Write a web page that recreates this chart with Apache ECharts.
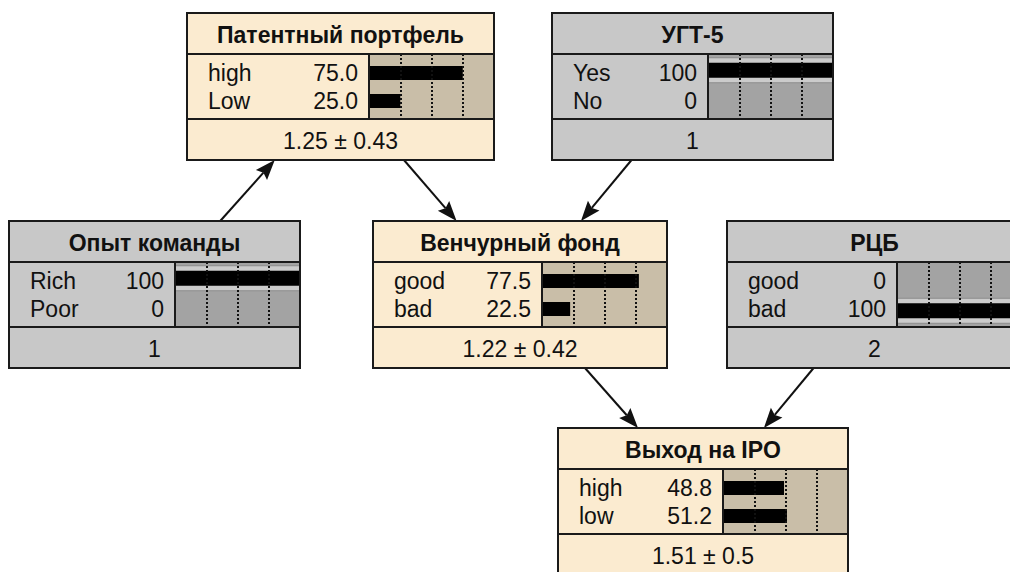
<!DOCTYPE html>
<html><head><meta charset="utf-8">
<script src="https://cdn.jsdelivr.net/npm/echarts@6/dist/echarts.min.js"></script>
<style>html,body{margin:0;padding:0;background:#fff}#c{width:1010px;height:572px}</style>
</head><body><div id="c"></div>
<script>
// ---- data ----
const nodeTitles = ['Патентный портфель', 'УГТ-5', 'Опыт команды', 'Венчурный фонд', 'РЦБ', 'Выход на IPO'];
const stateNames = [['high', 'Low'], ['Yes', 'No'], ['Rich', 'Poor'], ['good', 'bad'], ['good', 'bad'], ['high', 'low']];
const beliefs = [[75.0, 25.0], [100, 0], [100, 0], [77.5, 22.5], [0, 100], [48.8, 51.2]];
const summaries = ['1.25 ± 0.43', '1', '1', '1.22 ± 0.42', '2', '1.51 ± 0.5'];
const hasFinding = [false, true, true, false, true, false];
const links = [[2, 0], [0, 3], [1, 3], [3, 5], [4, 5]];

// ---- layout (positions only) ----
const boxes = [[187, 13, 307], [552, 13, 281], [9, 221, 291], [373, 221, 294], [727, 221, 295], [558, 428, 290]];
const TITLE_H = 41, STATES_H = 65, SUM_H = 41, BOX_H = TITLE_H + STATES_H + SUM_H, BAR_W = 125;
const FONT = '"Liberation Sans", Arial, sans-serif';
const INK = '#111';
const TXT = 23, TITLE_TXT = 23;

function fmt(v) { return (v === 0 || v === 100) ? String(v) : v.toFixed(1); }

const grids = [], xAxes = [], yAxes = [], series = [], graphics = [];
const hidden = { axisLine: { show: false }, axisTick: { show: false }, axisLabel: { show: false }, splitLine: { show: false } };

nodeTitles.forEach((title, i) => {
  const [bx, by, bw] = boxes[i];
  const ev = hasFinding[i];
  const fill = ev ? '#c8c8c8' : '#fbebd0';
  const barBg = ev ? '#a3a3a3' : '#c9bea8';
  const sTop = by + TITLE_H, sBot = sTop + STATES_H, barL = bx + bw - BAR_W;

  // full bar area grid
  const gA = grids.length;
  grids.push({ left: barL, top: sTop, width: BAR_W, height: STATES_H, show: true, backgroundColor: barBg, borderWidth: 0, containLabel: false, outerBoundsMode: 'none' });
  const xA = xAxes.length;
  xAxes.push({ gridIndex: gA, type: 'value', min: 0, max: 100, interval: 25, z: 3,
    axisLine: { show: false }, axisTick: { show: false }, axisLabel: { show: false },
    splitLine: { show: true, showMinLine: false, showMaxLine: false, lineStyle: { color: INK, width: 2, type: [2, 2] } } });
  const yA1 = yAxes.length;
  yAxes.push(Object.assign({ gridIndex: gA, type: 'category', data: stateNames[i], inverse: true }, hidden));
  const yA2 = yAxes.length;
  yAxes.push(Object.assign({ gridIndex: gA, type: 'category', data: stateNames[i], inverse: true }, hidden));

  // inset grid for labels and regular bars
  const gB = grids.length;
  grids.push({ left: barL, top: sTop + 5, width: BAR_W, height: STATES_H - 9, show: false, containLabel: false, outerBoundsMode: 'none' });
  const xB = xAxes.length;
  xAxes.push(Object.assign({ gridIndex: gB, type: 'value', min: 0, max: 100 }, hidden));
  const yB = yAxes.length;
  const total = barL - bx - 32, valW = 60, nameW = total - valW;
  yAxes.push({ gridIndex: gB, type: 'category', data: stateNames[i], inverse: true,
    axisLine: { show: false }, axisTick: { show: false }, splitLine: { show: false },
    axisLabel: { show: true, margin: 11, interval: 0,
      formatter: (val, idx) => '{n|' + val + '}{v|' + fmt(beliefs[i][idx]) + '}',
      rich: {
        n: { width: nameW, align: 'left', fontSize: TXT, fontFamily: FONT, color: INK },
        v: { width: valW, align: 'right', fontSize: TXT, fontFamily: FONT, color: INK }
      } } });

  if (ev) {
    series.push({ type: 'bar', xAxisIndex: xA, yAxisIndex: yA2, data: beliefs[i], barWidth: 26, silent: true, z: 2,
      itemStyle: { color: '#cbcbcb', borderColor: '#8c8c8c', borderWidth: 1 } });
    series.push({ type: 'bar', xAxisIndex: xA, yAxisIndex: yA1, data: beliefs[i], barWidth: 15, silent: true, z: 2,
      itemStyle: { color: '#000' } });
  } else {
    series.push({ type: 'bar', xAxisIndex: xB, yAxisIndex: yB, data: beliefs[i], barWidth: 14, silent: true, z: 2,
      itemStyle: { color: '#000' } });
  }

  graphics.push({ type: 'rect', z: -10, shape: { x: bx, y: by, width: bw, height: BOX_H }, style: { fill: fill } });
  graphics.push({ type: 'text', z: 10, x: bx + bw / 2, y: by + TITLE_H / 2 + 1,
    style: { text: title, font: 'bold ' + TITLE_TXT + 'px ' + FONT, fill: INK, align: 'center', verticalAlign: 'middle', textAlign: 'center', textVerticalAlign: 'middle' } });
  graphics.push({ type: 'text', z: 10, x: bx + bw / 2, y: sBot + SUM_H / 2 + 1,
    style: { text: summaries[i], font: TXT + 'px ' + FONT, fill: INK, align: 'center', verticalAlign: 'middle', textAlign: 'center', textVerticalAlign: 'middle' } });
  [[bx, sTop, bx + bw, sTop], [bx, sBot, bx + bw, sBot], [barL, sTop, barL, sBot]].forEach(s => {
    graphics.push({ type: 'line', z: 10, shape: { x1: s[0], y1: s[1], x2: s[2], y2: s[3] }, style: { stroke: '#1a1a1a', lineWidth: 2 } });
  });
  graphics.push({ type: 'rect', z: 11, shape: { x: bx, y: by, width: bw, height: BOX_H }, style: { fill: 'none', stroke: '#1a1a1a', lineWidth: 2 } });
});

// arrows: centre-to-centre lines clipped at the box borders
function centre(k) { const b = boxes[k]; return [b[0] + b[2] / 2, b[1] + BOX_H / 2]; }
function clip(k, dx, dy) {
  const b = boxes[k], c = centre(k);
  const t = Math.min((b[2] / 2) / Math.abs(dx || 1e-9), (BOX_H / 2) / Math.abs(dy || 1e-9));
  return [c[0] + dx * t, c[1] + dy * t];
}
const arrowData = links.map(([s, t]) => {
  const cs = centre(s), ct = centre(t);
  const dx = ct[0] - cs[0], dy = ct[1] - cs[1];
  const p1 = clip(s, dx, dy), p2 = clip(t, -dx, -dy);
  return [p1[0], p1[1], p2[0], p2[1]];
});

const gP = grids.length;
grids.push({ left: 0, top: 0, width: 1010, height: 572, show: false, containLabel: false, outerBoundsMode: 'none' });
const xP = xAxes.length;
xAxes.push(Object.assign({ gridIndex: gP, type: 'value', min: 0, max: 1010, show: false }, hidden));
const yP = yAxes.length;
yAxes.push(Object.assign({ gridIndex: gP, type: 'value', min: 0, max: 572, inverse: true, show: false }, hidden));

series.push({
  type: 'custom', xAxisIndex: xP, yAxisIndex: yP, data: arrowData, clip: false, silent: true, z: 5,
  renderItem: (params, api) => {
    const p1 = api.coord([api.value(0), api.value(1)]);
    const p2 = api.coord([api.value(2), api.value(3)]);
    const a = Math.atan2(p2[1] - p1[1], p2[0] - p1[0]);
    const ca = Math.cos(a), sa = Math.sin(a);
    const L = 20, W = 7.5, N = 3;
    const bx = p2[0] - L * ca, by = p2[1] - L * sa;
    const nx = -sa, ny = ca;
    return { type: 'group', children: [
      { type: 'line', shape: { x1: p1[0], y1: p1[1], x2: bx + N * ca, y2: by + N * sa }, style: { stroke: INK, lineWidth: 2 } },
      { type: 'polygon', shape: { points: [[p2[0], p2[1]], [bx + nx * W, by + ny * W], [bx + N * ca, by + N * sa], [bx - nx * W, by - ny * W]] }, style: { fill: INK } }
    ] };
  }
});

const chart = echarts.init(document.getElementById('c'), null, { renderer: 'svg', width: 1010, height: 572 });
chart.setOption({
  backgroundColor: '#ffffff',
  animation: false,
  grid: grids, xAxis: xAxes, yAxis: yAxes, series: series,
  graphic: { elements: graphics }
});
</script></body></html>
